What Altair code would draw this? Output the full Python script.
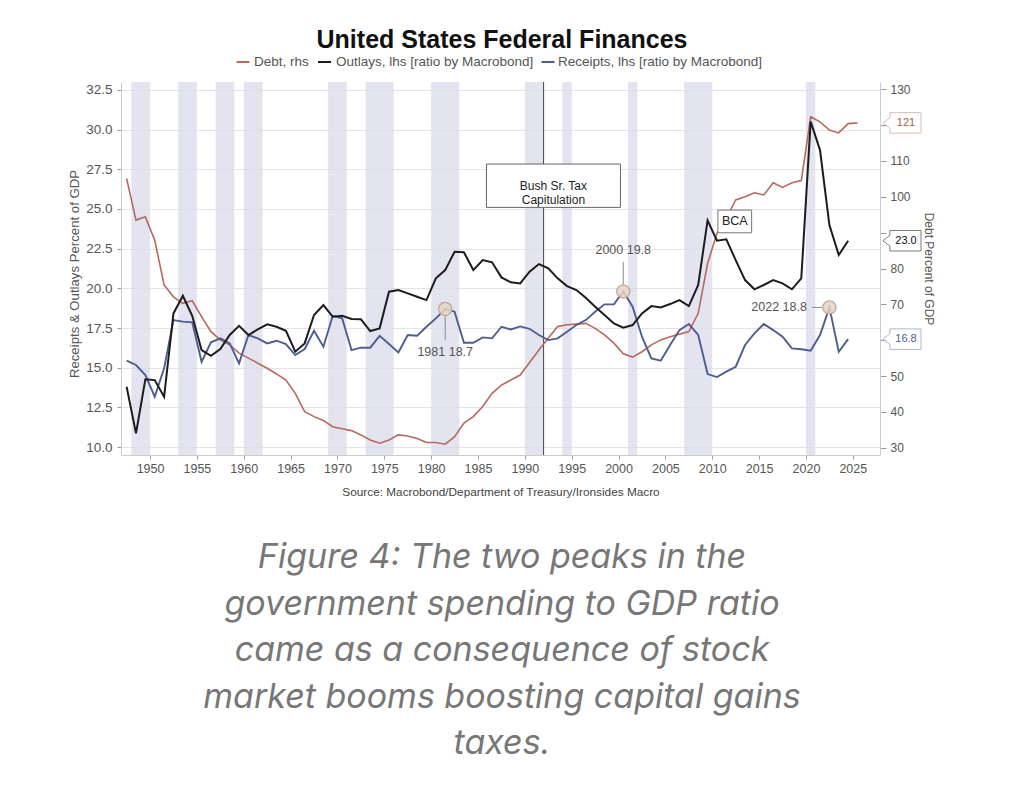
import altair as alt
import pandas as pd

# ---------------- data ----------------
years = list(range(1947, 2025))
outlays = [13.8, 10.86, 14.27, 14.22, 13.17, 18.42, 19.53, 18.27, 16.11, 15.75,
           16.18, 17.06, 17.64, 17.06, 17.41, 17.73, 17.58, 17.33, 16.01, 16.53,
           18.32, 18.95, 18.21, 18.27, 18.07, 18.05, 17.31, 17.48, 19.79, 19.89,
           19.68, 19.47, 19.26, 20.63, 21.15, 22.31, 22.27, 21.15, 21.78, 21.64,
           20.69, 20.38, 20.31, 21.05, 21.53, 21.26, 20.63, 20.14, 19.89, 19.41,
           18.84, 18.32, 17.79, 17.52, 17.69, 18.42, 18.88, 18.80, 19.01, 19.26,
           18.88, 20.21, 24.28, 23.0, 23.09, 21.78, 20.52, 19.94, 20.21, 20.52,
           20.31, 19.94, 20.63, 30.5, 28.71, 23.99, 22.10, 23.0]
receipts = [15.44, 15.17, 14.54, 13.17, 14.96, 18.0, 17.90, 17.86, 15.37, 16.60,
            16.85, 16.53, 15.27, 17.06, 16.85, 16.53, 16.70, 16.49, 15.80, 16.18,
            17.33, 16.32, 18.27, 18.11, 16.11, 16.26, 16.26, 17.01, 16.49, 15.96,
            17.06, 17.01, 17.58, 18.11, 18.7, 18.53, 16.57, 16.57, 16.91, 16.85,
            17.58, 17.41, 17.6, 17.45, 17.06, 16.74, 16.85, 17.27, 17.69, 18.0,
            18.53, 18.99, 18.99, 19.8, 18.84, 16.95, 15.59, 15.44, 16.43, 17.37,
            17.75, 17.06, 14.6, 14.41, 14.75, 15.06, 16.43, 17.16, 17.75, 17.37,
            16.95, 16.22, 16.16, 16.07, 17.06, 18.8, 16.0, 16.8]
debt_years = list(range(1947, 2026))
debt = [105.1, 93.5, 94.4, 87.9, 75.4, 72.1, 70.3, 71.0, 66.6, 62.4,
        60.1, 58.7, 56.4, 55.0, 53.6, 52.2, 50.6, 48.9, 45.2, 40.1,
        38.7, 37.6, 35.9, 35.3, 34.8, 33.6, 32.2, 31.3, 32.2, 33.6,
        33.3, 32.6, 31.5, 31.5, 31.0, 33.1, 36.9, 38.7, 41.5, 45.2,
        47.5, 48.9, 50.3, 53.8, 57.3, 60.6, 63.8, 64.3, 64.5, 64.7,
        63.3, 61.5, 59.2, 56.2, 55.3, 56.8, 58.7, 60.1, 61.0, 61.7,
        62.4, 67.5, 81.4, 89.8, 94.0, 99.1, 100.0, 101.1, 100.5, 103.9,
        102.6, 103.9, 104.5, 122.3, 120.9, 118.6, 117.8, 120.4, 120.6]

rec_start = [1948, 1953, 1957, 1960, 1969, 1973, 1980, 1990, 1994, 2001, 2007, 2020]
rec_end = [1950, 1955, 1959, 1962, 1971, 1976, 1983, 1992, 1995, 2002, 2010, 2021]

event_year = [1992]

peak_years = [1981, 2000, 2022]
peak_values = [18.7, 19.8, 18.8]

left_ticks = [10.0, 12.5, 15.0, 17.5, 20.0, 22.5, 25.0, 27.5, 30.0, 32.5]
right_ticks = [30, 40, 50, 60, 70, 80, 90, 100, 110, 120, 130]
right_hidden = [60, 90, 120]   # labels covered by the last-value tags
x_ticks = list(range(1950, 2030, 5))

title_text = "United States Federal Finances"
legend_labels = ["Debt, rhs", "Outlays, lhs [ratio by Macrobond]",
                 "Receipts, lhs [ratio by Macrobond]"]
source_text = "Source: Macrobond/Department of Treasury/Ironsides Macro"
left_title = "Receipts & Outlays Percent of GDP"
right_title = "Debt Percent of GDP"
caption_lines = ["Figure 4: The two peaks in the",
                 "government spending to GDP ratio",
                 "came as a consequence of stock",
                 "market booms boosting capital gains",
                 "taxes."]

# ---------------- styling ----------------
W, H = 759, 373
FONT = "Liberation Sans"
C_DEBT = "#b8695e"
C_OUT = "#1c1c1c"
C_REC = "#4e5d8f"
GREY = "#555555"

xs = alt.Scale(domain=[1946.9, 2027.9], nice=False, zero=False)
ls = alt.Scale(domain=[9.5, 33.0], nice=False, zero=False)
rs = alt.Scale(domain=[28, 132], nice=False, zero=False)

xaxis = alt.Axis(values=x_ticks, format="d", title=None, grid=False,
                 labelFontSize=12.5, labelColor=GREY, labelFont=FONT,
                 tickSize=4, tickColor="#999", domainColor="#cccccc",
                 labelPadding=3)
laxis = alt.Axis(orient="left", values=left_ticks, format=".1f", title=None,
                 grid=True, gridColor="#e4e4e4", gridWidth=1,
                 labelFontSize=13.5, labelColor=GREY, labelFont=FONT,
                 tickSize=4, tickColor="#999", domainColor="#cccccc",
                 labelPadding=5)
hide_expr = "indexof(" + str(right_hidden) + ", datum.value) >= 0 ? '' : datum.label"
raxis = alt.Axis(orient="right", values=right_ticks, format="d", title=None,
                 grid=False, labelFontSize=12, labelColor=GREY, labelFont=FONT,
                 tickSize=6, tickColor="#999", domainColor="#cccccc",
                 labelPadding=4, labelExpr=hide_expr)


def X(field):
    return alt.X(field, scale=xs, axis=xaxis)


def YL(field):
    return alt.Y(field, scale=ls, axis=None)


# ---------------- tables ----------------
df = pd.DataFrame({"year": years, "x": [y + 0.5 for y in years],
                   "Outlays": outlays, "Receipts": receipts})
ddf = pd.DataFrame({"year": debt_years, "x": [y + 0.5 for y in debt_years],
                    "Debt": debt})
rec_df = pd.DataFrame({"start": rec_start, "end": rec_end})
ev_df = pd.DataFrame({"x": event_year})
pk_df = pd.DataFrame({"x": [y + 0.5 for y in peak_years], "v": peak_values,
                      "label": [f"{y} {v}" for y, v in zip(peak_years, peak_values)]})

# ---------------- layers ----------------
rects = alt.Chart(rec_df).mark_rect(color="#dadaeb", opacity=0.72).encode(
    x=X("start:Q"), x2="end:Q", y=alt.value(0), y2=alt.value(H))

event_rule = alt.Chart(ev_df).mark_rule(color="#444", strokeWidth=1).encode(
    x=X("x:Q"), y=alt.value(0), y2=alt.value(H))

debt_line = alt.Chart(ddf).mark_line(color=C_DEBT, strokeWidth=1.6).encode(
    x=X("x:Q"), y=alt.Y("Debt:Q", scale=rs, axis=raxis))

rec_line = alt.Chart(df).mark_line(color=C_REC, strokeWidth=1.9).encode(
    x=X("x:Q"), y=YL("Receipts:Q"))

out_line = alt.Chart(df).mark_line(color=C_OUT, strokeWidth=2).encode(
    x=X("x:Q"), y=alt.Y("Outlays:Q", scale=ls, axis=laxis))

# annotation leader lines (to the peak bubbles)
lead_v = alt.Chart(pd.DataFrame({"x": [1981.5, 2000.5], "y1": [18.26, 20.24],
                                 "y2": [16.75, 21.65]})).mark_rule(
    color="#8a8a8a", strokeWidth=1).encode(x=X("x:Q"), y=YL("y1:Q"), y2="y2:Q")
lead_h = alt.Chart(pd.DataFrame({"x1": [2020.65], "x2": [2021.7], "y": [18.8]})).mark_rule(
    color="#8a8a8a", strokeWidth=1).encode(x=X("x1:Q"), x2="x2:Q", y=YL("y:Q"))

bubbles = alt.Chart(pk_df).mark_point(shape="circle", filled=True, size=175,
                                      fill="#e8d3c2", fillOpacity=0.85,
                                      stroke="#b9a799", strokeWidth=1.2).encode(
    x=X("x:Q"), y=YL("v:Q"))

pk_lab_df = pk_df.copy()
pk_lab_df["lx"] = [1981.5, 2000.5, 2020.1]
pk_lab_df["ly"] = [15.99, 22.42, 18.8]
pk_labels_c = alt.Chart(pk_lab_df.iloc[:2]).mark_text(
    font=FONT, fontSize=12.5, color=GREY, align="center", baseline="middle").encode(
    x=X("lx:Q"), y=YL("ly:Q"), text="label:N")
pk_labels_r = alt.Chart(pk_lab_df.iloc[2:]).mark_text(
    font=FONT, fontSize=12.5, color=GREY, align="right", baseline="middle").encode(
    x=X("lx:Q"), y=YL("ly:Q"), text="label:N")

# text boxes
bush_box = alt.Chart(pd.DataFrame({"x1": [1985.9], "x2": [2000.2],
                                   "y1": [25.1], "y2": [27.83]})).mark_rect(
    fill="white", stroke="#666", strokeWidth=1).encode(
    x=X("x1:Q"), x2="x2:Q", y=YL("y1:Q"), y2="y2:Q")
bush_text = alt.Chart(pd.DataFrame({"x": [1993.05], "y": [26.42]})).mark_text(
    font=FONT, fontSize=12, color="#222", align="center", baseline="middle",
    lineHeight=13.5).encode(
    x=X("x:Q"), y=YL("y:Q"), text=alt.value(["Bush Sr. Tax", "Capitulation"]))

bca_box = alt.Chart(pd.DataFrame({"x1": [2010.6], "x2": [2014.2],
                                  "y1": [23.5], "y2": [24.93]})).mark_rect(
    fill="white", stroke="#777", strokeWidth=1).encode(
    x=X("x1:Q"), x2="x2:Q", y=YL("y1:Q"), y2="y2:Q")
bca_text = alt.Chart(pd.DataFrame({"x": [2012.4], "y": [24.22]})).mark_text(
    font=FONT, fontSize=12.5, color="#222", align="center", baseline="middle").encode(
    x=X("x:Q"), y=YL("y:Q"), text=alt.value("BCA"))

# last-value tags on the right
TAG = "M -1 0 L -0.64 -0.28 L -0.64 -0.54 L 1 -0.54 L 1 0.54 L -0.64 0.54 L -0.64 0.28 Z"
tag_l_df = pd.DataFrame({"v": [outlays[-1], receipts[-1]],
                         "t": [f"{outlays[-1]:.1f}", f"{receipts[-1]:.1f}"],
                         "s": ["Outlays", "Receipts"]})
tag_r_df = pd.DataFrame({"v": [debt[-1]], "t": [f"{debt[-1]:.0f}"]})

tag_l_shape = alt.Chart(tag_l_df).mark_point(shape=TAG, size=1444, filled=True,
                                             fill="white", strokeWidth=1).encode(
    x=alt.value(781), y=YL("v:Q"),
    stroke=alt.Stroke("s:N", scale=alt.Scale(domain=["Outlays", "Receipts"],
                                               range=["#444444", "#8f99bb"]),
                      legend=None))
tag_l_text = alt.Chart(tag_l_df).mark_text(font=FONT, fontSize=11, align="center",
                                           baseline="middle").encode(
    x=alt.value(785), y=YL("v:Q"), text="t:N",
    color=alt.Color("s:N", scale=alt.Scale(domain=["Outlays", "Receipts"],
                                             range=["#111111", C_REC]), legend=None))
tag_r_shape = alt.Chart(tag_r_df).mark_point(shape=TAG, size=1444, filled=True,
                                             fill="white", stroke="#c9a29b",
                                             strokeWidth=1).encode(
    x=alt.value(781), y=alt.Y("v:Q", scale=rs, axis=None))
tag_r_text = alt.Chart(tag_r_df).mark_text(font=FONT, fontSize=11, align="center",
                                           baseline="middle", color="#b0564a").encode(
    x=alt.value(785), y=alt.Y("v:Q", scale=rs, axis=None), text="t:N")


# titles, legend, source, caption
def txt(text, x, y, **kw):
    return alt.Chart(pd.DataFrame({"t": [0]})).mark_text(**kw).encode(
        x=alt.value(x), y=alt.value(y), text=alt.value(text))


title = txt(title_text, 381, -42, font=FONT, fontSize=25, fontWeight="bold",
            color="#111", align="center", baseline="middle")

leg_items = []
dash_x = [115.5, 197, 420.5]
text_x = [133, 215, 437]
for lab, col, dx, tx in zip(legend_labels, [C_DEBT, C_OUT, C_REC], dash_x, text_x):
    leg_items.append(alt.Chart(pd.DataFrame({"t": [0]})).mark_rule(
        color=col, strokeWidth=2).encode(
        x=alt.value(dx), x2=alt.value(dx + 13), y=alt.value(-20)))
    leg_items.append(txt(lab, tx, -20, font=FONT, fontSize=13.5, color=GREY,
                         align="left", baseline="middle"))

source = txt(source_text, 380, 410, font=FONT, fontSize=11.8, color="#444",
             align="center", baseline="middle")
ltitle = txt(left_title, -46, 192, font=FONT, fontSize=13.2, color=GREY,
             align="center", baseline="middle", angle=270)
rtitle = txt(right_title, 808, 187, font=FONT, fontSize=12, color=GREY,
             align="center", baseline="middle", angle=90)
caption = txt(caption_lines, 381, 486, font="Inter", fontSize=34,
              fontStyle="italic", fontWeight=400, color="#777777", align="center",
              baseline="alphabetic", lineHeight=46.5)

chart = alt.layer(
    rects, event_rule, debt_line, rec_line, out_line,
    lead_v, lead_h, bubbles, pk_labels_c, pk_labels_r,
    bush_box, bush_text, bca_box, bca_text,
    tag_l_shape, tag_l_text, tag_r_shape, tag_r_text,
    title, *leg_items, source, ltitle, rtitle, caption
).resolve_scale(
    y="independent", color="independent", stroke="independent"
).properties(
    width=W, height=H,
    padding={"left": 113, "top": 74, "right": 128, "bottom": 322},
    autosize=alt.AutoSizeParams(type="none"),
    background="white"
).configure_view(stroke=None)

chart.save("out.html", embed_options={"renderer": "svg", "actions": False})
